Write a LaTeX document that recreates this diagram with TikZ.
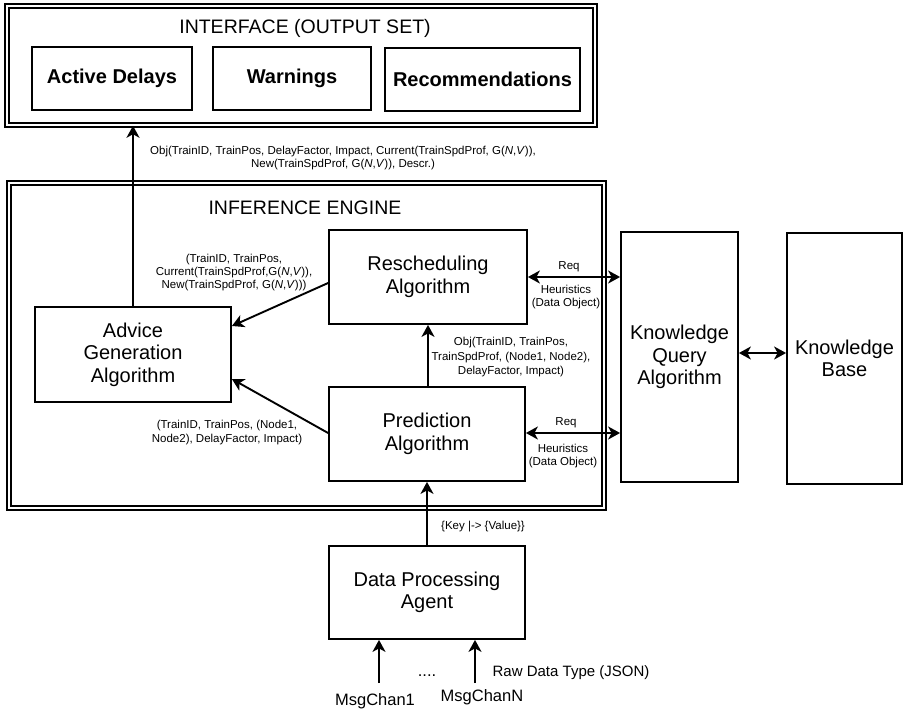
\documentclass[tikz,border=0pt]{standalone}
\usepackage{fontspec}
\setmainfont{Liberation Sans}
\usetikzlibrary{arrows.meta,calc}
\begin{document}
\begin{tikzpicture}[x=1pt,y=-1pt,
  blk/.style={draw, line width=1.8pt, inner sep=0pt, align=center,
    font=\fontsize{20}{22.5}\selectfont},
  bblk/.style={blk, font=\fontsize{20}{22.5}\selectfont\bfseries},
  frame/.style={draw, line width=1.5pt, double, double distance=2.2pt, inner sep=0pt},
  ttl/.style={inner sep=0pt, font=\fontsize{19.5}{22}\selectfont},
  lbl/.style={inner sep=0pt, align=center, font=\fontsize{11.5}{12.8}\selectfont},
  lblw/.style={lbl, font=\fontsize{11.5}{14.5}\selectfont},
  chan/.style={inner sep=0pt, font=\fontsize{16.5}{18}\selectfont},
  tip/.tip={Stealth[length=12pt,width=13pt,inset=3.5pt]},
  conn/.style={line width=1.9pt, -tip},
  biconn/.style={line width=1.9pt, tip-tip}]
\useasboundingbox (0,0) rectangle (903,713);

% output interface
\node[frame, minimum width=588pt, minimum height=119pt] (iface) at (301,65.5) {};
\node[ttl] (ifacettl) at (305,28) {INTERFACE (OUTPUT SET)};
\node[bblk, minimum width=160pt, minimum height=63pt] (act) at (112,78.5) {Active Delays};
\node[bblk, minimum width=158pt, minimum height=63pt] (warn) at (292,78.5) {Warnings};
\node[bblk, minimum width=195pt, minimum height=63pt] (rec) at (482.5,79.5) {Recommendations};

% inference engine
\node[frame, minimum width=595pt, minimum height=325pt] (eng) at (306.5,345.5) {};
\node[ttl] (engttl) at (305,208) {INFERENCE ENGINE};
\node[blk, minimum width=198pt, minimum height=94pt] (resch) at (428,277) {Rescheduling\\Algorithm};
\node[blk, minimum width=196pt, minimum height=95pt] (adv) at (133,354.5) {Advice\\Generation\\Algorithm};
\node[blk, minimum width=196pt, minimum height=94pt] (pred) at (427,434) {Prediction\\Algorithm};

% knowledge side
\node[blk, minimum width=117pt, minimum height=250pt] (kqa) at (679.5,357) {Knowledge\\Query\\Algorithm};
\node[blk, minimum width=115pt, minimum height=251pt] (kb) at (844.5,358.5) {Knowledge\\Base};

% data input
\node[blk, minimum width=196pt, minimum height=93pt] (dpa) at (427,592.5) {Data Processing\\Agent};

% connectors
\draw[conn] (adv.north) -- (adv.north |- iface.south);
\node[lbl] (outlbl) at (343,158) {Obj(TrainID, TrainPos, DelayFactor, Impact, Current(TrainSpdProf, G(\textit{N},\textit{V})),\\New(TrainSpdProf, G(\textit{N},\textit{V})), Descr.)};

\draw[conn] ($(resch.west)+(0,6)$) -- ($(adv.east)+(0,-28.5)$);
\node[lbl] (rslbl) at (234,272.5) {(TrainID, TrainPos,\\Current(TrainSpdProf,G(\textit{N},\textit{V})),\\New(TrainSpdProf, G(\textit{N},\textit{V})))};

\draw[conn] ($(pred.west)+(0,-1)$) -- ($(adv.east)+(0,24.5)$);
\node[lblw] (pdlbl) at (227,432.5) {(TrainID, TrainPos, (Node1,\\Node2), DelayFactor, Impact)};

\draw[conn] ($(pred.north)+(1,0)$) -- ($(pred.north |- resch.south)+(1,0)$);
\node[lblw] (prlbl) at (511,357.5) {Obj(TrainID, TrainPos,\\TrainSpdProf, (Node1, Node2),\\DelayFactor, Impact)};

\draw[biconn] (resch.east) -- (resch.east -| kqa.west);
\node[lbl] (req1) at (569,267) {Req};
\node[lbl] (heu1) at (566,297) {Heuristics\\(Data Object)};

\draw[biconn] ($(pred.east)+(0,-1)$) -- ($(pred.east -| kqa.west)+(0,-1)$);
\node[lbl] (req2) at (566,423) {Req};
\node[lbl] (heu2) at (563,456) {Heuristics\\(Data Object)};

\draw[biconn] ($(kqa.east)+(0,-4)$) -- ($(kqa.east -| kb.west)+(0,-4)$);

\draw[conn] (dpa.north) -- (pred.south);
\node[lbl] (kvlbl) at (483,527) {\{Key |-> \{Value\}\}};

\coordinate (c1) at (379,683);
\coordinate (cN) at (475,683);
\draw[conn] (c1) -- (c1 |- dpa.south);
\draw[conn] (cN) -- (cN |- dpa.south);
\node[chan] (dots) at (427,676) {....};
\node[chan] (m1) at (375,701) {MsgChan1};
\node[chan] (mN) at (482,697) {MsgChanN};
\node[inner sep=0pt, font=\fontsize{15}{17}\selectfont] (raw) at (571,673) {Raw Data Type (JSON)};
\end{tikzpicture}
\end{document}
